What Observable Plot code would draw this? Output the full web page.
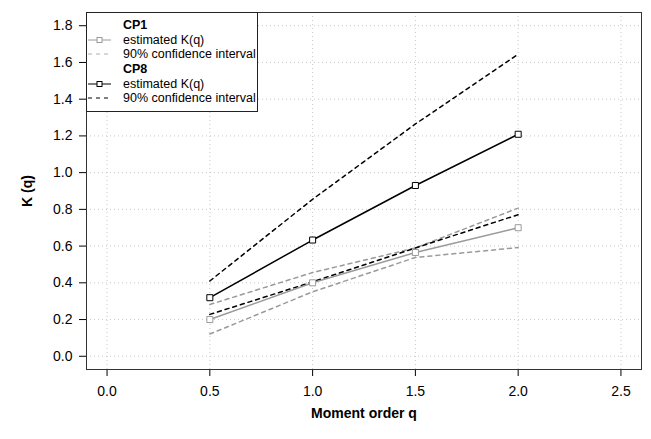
<!DOCTYPE html>
<html>
<head>
<meta charset="utf-8">
<script src="https://cdn.jsdelivr.net/npm/d3@7"></script>
<script src="https://cdn.jsdelivr.net/npm/@observablehq/plot@0.6"></script>
<style>
  html, body { margin: 0; padding: 0; background: #fff; }
  #wrap { position: relative; width: 651px; height: 439px; font-family: "Liberation Sans", Arial, Helvetica, sans-serif; }
  #wrap svg { font-family: "Liberation Sans", Arial, Helvetica, sans-serif; }
  #wrap svg [aria-label="x-axis label"] text, #wrap svg [aria-label="y-axis label"] text { font-weight: bold; }
  #legend { position: absolute; left: 86px; top: 12px; width: 172px; height: 100px; box-sizing: border-box; border: 1px solid #222; background: #fff; font-size: 12.5px; color: #000; padding: 5px 0 0 0; }
  #legend .row { display: flex; align-items: center; height: 14.6px; }
  #legend .sw { width: 36px; flex: none; display: flex; align-items: center; }
  #legend .sw svg { display: block; }
  #legend .title { font-weight: bold; }
</style>
</head>
<body>
<div id="wrap"></div>
<script>
const q = [0.5, 1.0, 1.5, 2.0];
const cp1Est   = [0.200, 0.400, 0.565, 0.700];
const cp1Upper = [0.282, 0.456, 0.590, 0.807];
const cp1Lower = [0.121, 0.351, 0.538, 0.592];
const cp8Est   = [0.319, 0.633, 0.930, 1.209];
const cp8Upper = [0.410, 0.855, 1.265, 1.645];
const cp8Lower = [0.228, 0.405, 0.590, 0.771];
const xTicks = [0, 0.5, 1.0, 1.5, 2.0, 2.5];
const yTicks = [0, 0.2, 0.4, 0.6, 0.8, 1.0, 1.2, 1.4, 1.6, 1.8];

const grey = "#9a9a9a";
const rows = (vals) => q.map((x, i) => ({q: x, k: vals[i]}));

const plot = Plot.plot({
  width: 651,
  height: 439,
  marginLeft: 86,
  marginRight: 10,
  marginTop: 12,
  marginBottom: 70,
  style: {fontSize: "14px", color: "#000", background: "#fff"},
  x: {domain: [-0.1, 2.6], ticks: xTicks, tickFormat: d3.format(".1f"), tickSize: 7, tickPadding: 10, label: "Moment order q", labelArrow: "none", labelAnchor: "center", labelOffset: 48},
  y: {domain: [-0.072, 1.872], ticks: yTicks, tickFormat: d3.format(".1f"), tickSize: 7, tickPadding: 7, label: "K (q)", labelArrow: "none", labelAnchor: "center", labelOffset: 64},
  marks: [
    Plot.gridX(xTicks, {stroke: "#c8c8c8", strokeOpacity: 1, strokeDasharray: "1,3"}),
    Plot.gridY(yTicks, {stroke: "#c8c8c8", strokeOpacity: 1, strokeDasharray: "1,3"}),
    Plot.line(rows(cp1Upper), {x: "q", y: "k", stroke: grey, strokeDasharray: "4,4"}),
    Plot.line(rows(cp1Lower), {x: "q", y: "k", stroke: grey, strokeDasharray: "4,4"}),
    Plot.line(rows(cp8Upper), {x: "q", y: "k", stroke: "#000", strokeDasharray: "4,4"}),
    Plot.line(rows(cp8Lower), {x: "q", y: "k", stroke: "#000", strokeDasharray: "4,4"}),
    Plot.line(rows(cp1Est), {x: "q", y: "k", stroke: grey}),
    Plot.dot(rows(cp1Est), {x: "q", y: "k", symbol: "square", r: 3.4, stroke: grey, fill: "#fff", strokeWidth: 1}),
    Plot.line(rows(cp8Est), {x: "q", y: "k", stroke: "#000"}),
    Plot.dot(rows(cp8Est), {x: "q", y: "k", symbol: "square", r: 3.4, stroke: "#000", fill: "#fff", strokeWidth: 1}),
    Plot.frame({stroke: "#333"})
  ]
});
document.getElementById("wrap").appendChild(plot);

// Legend (HTML overlay)
const legendItems = [
  {type: "title", text: "CP1"},
  {type: "est", color: grey, text: "estimated K(q)"},
  {type: "ci", color: "#b0b0b0", text: "90% confidence interval"},
  {type: "title", text: "CP8"},
  {type: "est", color: "#000", text: "estimated K(q)"},
  {type: "ci", color: "#000", text: "90% confidence interval"}
];
const leg = document.createElement("div");
leg.id = "legend";
for (const it of legendItems) {
  const row = document.createElement("div");
  row.className = "row";
  const sw = document.createElement("div");
  sw.className = "sw";
  if (it.type === "est") {
    sw.innerHTML = `<svg width="30" height="10"><line x1="1" y1="5" x2="24" y2="5" stroke="${it.color}"/><rect x="10" y="2.5" width="5" height="5" fill="#fff" stroke="${it.color}"/></svg>`;
  } else if (it.type === "ci") {
    sw.innerHTML = `<svg width="30" height="10"><line x1="1" y1="5" x2="24" y2="5" stroke="${it.color}" stroke-dasharray="4,4"/></svg>`;
  }
  row.appendChild(sw);
  const t = document.createElement("span");
  t.textContent = it.text;
  if (it.type === "title") t.className = "title";
  row.appendChild(t);
  leg.appendChild(row);
}
document.getElementById("wrap").appendChild(leg);
</script>
</body>
</html>
